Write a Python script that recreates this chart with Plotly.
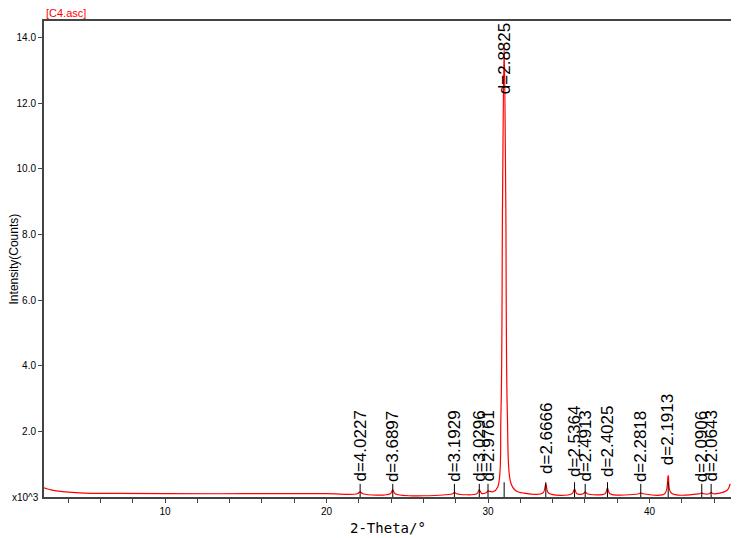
import plotly.graph_objects as go

# diffraction pattern (2-theta, intensity in thousands of counts)
two_theta = [2.5, 3.0, 4.0, 5.0, 7.0, 10.0, 15.0, 20.0, 21.9, 22.08, 22.25,
             23.95, 24.10, 24.25, 27.8, 27.92, 28.05, 29.3, 29.46, 29.6,
             29.85, 30.0, 30.3, 30.6, 30.8, 30.9, 31.0, 31.1, 31.2, 31.4,
             31.7, 32.2, 33.4, 33.58, 33.75, 35.2, 35.36, 35.5, 35.9, 36.02,
             36.15, 37.25, 37.40, 37.55, 39.35, 39.46, 39.6, 40.95, 41.16,
             41.35, 43.1, 43.24, 43.35, 43.7, 43.82, 43.95, 44.8, 45.0]
intensity = [0.28, 0.21, 0.15, 0.12, 0.11, 0.10, 0.10, 0.10, 0.10, 0.16, 0.10,
             0.10, 0.22, 0.10, 0.10, 0.14, 0.10, 0.10, 0.22, 0.11,
             0.12, 0.18, 0.16, 0.30, 2.5, 9.0, 13.8, 9.0, 2.5, 0.45,
             0.20, 0.12, 0.12, 0.40, 0.12, 0.10, 0.24, 0.10, 0.10, 0.16,
             0.10, 0.10, 0.27, 0.10, 0.10, 0.12, 0.10, 0.10, 0.65,
             0.12, 0.10, 0.12, 0.10, 0.10, 0.14, 0.10, 0.20, 0.40]

peak_pos = [22.08, 24.10, 27.92, 29.46, 30.0, 31.0, 33.58, 35.36, 36.02,
            37.40, 39.46, 41.16, 43.24, 43.82]
peak_d = ["4.0227", "3.6897", "3.1929", "3.0296", "2.9761", "2.8825", "2.6666",
          "2.5364", "2.4913", "2.4025", "2.2818", "2.1913", "2.0906", "2.0643"]
label_y = [0.40, 0.40, 0.40, 0.40, 0.40, 12.2, 0.65, 0.55, 0.40,
           0.55, 0.40, 0.90, 0.40, 0.40]

fig = go.Figure()
fig.add_trace(go.Scatter(x=two_theta, y=intensity, mode="lines",
                         line=dict(color="red", width=1.2), showlegend=False,
                         line_shape="spline"))

for x, d, y in zip(peak_pos, peak_d, label_y):
    fig.add_shape(type="line", x0=x, x1=x, y0=0, y1=min(y, 0.45),
                  xref="x", yref="y", line=dict(color="black", width=1))
    fig.add_annotation(x=x, y=y, text="d=" + d, textangle=-90, showarrow=False,
                       xanchor="center", yanchor="bottom",
                       font=dict(family="Arial", size=17, color="black"))

fig.add_annotation(x=0, y=1, xref="paper", yref="paper", text="[C4.asc]",
                   showarrow=False, xanchor="left", yanchor="bottom",
                   font=dict(family="Arial", size=11, color="red"))
fig.add_annotation(x=-0.005, y=0, xref="paper", yref="paper", text="x10^3",
                   showarrow=False, xanchor="right", yanchor="middle",
                   font=dict(family="Arial", size=10, color="black"))
fig.add_annotation(x=0.5, y=-0.045, xref="paper", yref="paper", text="2-Theta/°",
                   showarrow=False, xanchor="center", yanchor="top",
                   font=dict(family="DejaVu Sans Mono", size=14, color="black"))
fig.add_annotation(x=-0.043, y=0.5, xref="paper", yref="paper",
                   text="Intensity(Counts)", textangle=-90, showarrow=False,
                   xanchor="center", yanchor="middle",
                   font=dict(family="Arial", size=12, color="black"))

fig.update_layout(
    width=739, height=538, plot_bgcolor="white", paper_bgcolor="white",
    margin=dict(l=36, r=16, t=13, b=49),
    xaxis=dict(range=[2.5, 45.05], tickvals=[10, 20, 30, 40], ticks="outside",
               ticklen=4, showgrid=False, zeroline=False, showline=True,
               linecolor="#444", linewidth=2, mirror=True, automargin=False,
               tickfont=dict(family="Arial", size=10, color="black"),
               minor=dict(dtick=2, tick0=0, ticks="outside", ticklen=4)),
    yaxis=dict(range=[0, 14.5], tickvals=[2, 4, 6, 8, 10, 12, 14],
               ticktext=["2.0", "4.0", "6.0", "8.0", "10.0", "12.0", "14.0"],
               ticks="outside", ticklen=4, showgrid=False, zeroline=False,
               showline=True, linecolor="#444", linewidth=2, mirror=True,
               automargin=False,
               tickfont=dict(family="Arial", size=10, color="black")),
)

fig.write_html("out.html")
